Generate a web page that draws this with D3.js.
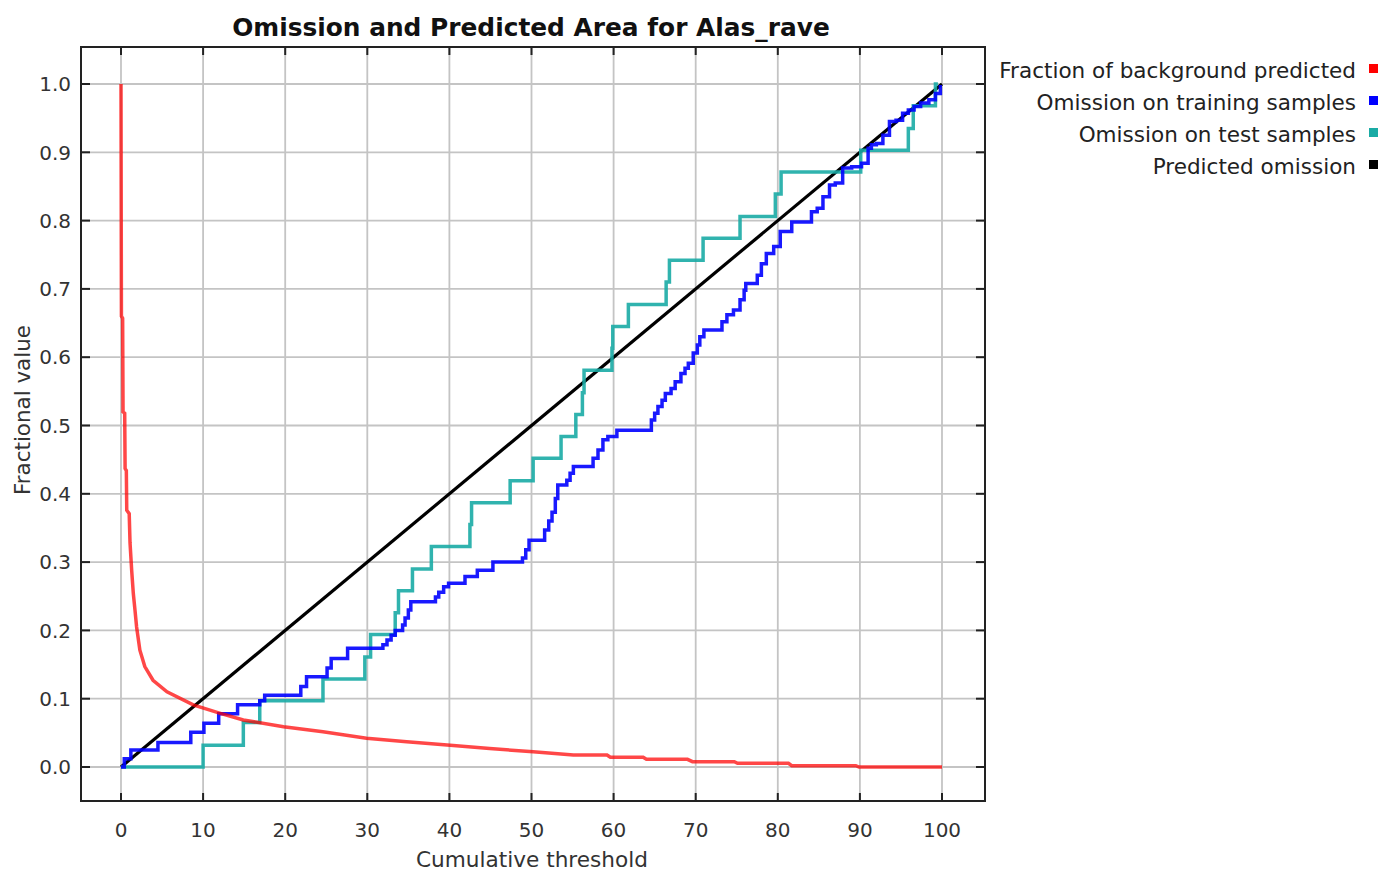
<!DOCTYPE html>
<html><head><meta charset="utf-8">
<script src="https://cdn.jsdelivr.net/npm/d3@7/dist/d3.min.js"></script>
<style>body{margin:0;background:#fff;} svg{display:block;}</style>
</head><body>
<svg id="chart" width="1383" height="872"></svg>
<script>
// ---------- data ----------
const titleText = "Omission and Predicted Area for Alas_rave";
const xAxisTitle = "Cumulative threshold";
const yAxisTitle = "Fractional value";
const xTicks = [0,10,20,30,40,50,60,70,80,90,100];
const yTicks = [0,0.1,0.2,0.3,0.4,0.5,0.6,0.7,0.8,0.9,1.0];
const legendLabels = ["Fraction of background predicted","Omission on training samples","Omission on test samples","Predicted omission"];
const legendColors = ["#ff0000","#0000ff","#1aaba5","#000000"];

// Fraction of background predicted (red)
const bgX = [0,0.05,0.2,0.25,0.45,0.5,0.65,0.7,1.0,1.1,1.3,1.5,1.7,1.9,2.3,2.9,3.9,5.6,8.8,12.1,14.9,19.8,24.6,29.9,34.8,40.1,44.9,50.2,55.1,59.2,59.6,63.6,64.0,69.0,69.6,74.7,75.1,81.3,81.7,89.5,89.9,100];
const bgY = [1.0,0.66,0.657,0.52,0.518,0.437,0.434,0.376,0.371,0.328,0.288,0.254,0.23,0.205,0.171,0.147,0.127,0.110,0.091,0.0786,0.0688,0.059,0.0517,0.042,0.037,0.032,0.027,0.0224,0.0176,0.0176,0.0142,0.0142,0.0112,0.0112,0.0078,0.0078,0.0054,0.0054,0.002,0.002,0.0,0.0];

// Omission on training samples (blue), step points
const trainX = [0,0.4,1.2,4.5,8.5,10.1,11.9,14.2,16.9,17.5,21.9,22.6,25.1,25.6,27.6,31.9,32.4,32.9,33.4,34.3,34.6,35.0,35.3,38.3,38.7,39.3,39.9,41.9,43.4,45.3,48.9,49.3,49.7,51.6,52.1,52.5,52.9,53.2,54.3,54.7,55.1,57.5,58.1,58.7,59.3,60.4,64.6,65.0,65.4,65.9,66.3,67.0,67.5,68.2,68.7,69.1,69.7,70.2,70.5,71.0,73.2,73.8,74.6,75.4,75.9,76.1,77.5,78.0,78.6,79.5,80.3,81.7,84.1,84.8,85.5,86.3,87.0,87.9,89.0,90.2,91.0,91.4,92.0,92.8,93.6,94.4,95.2,95.9,96.6,97.4,98.4,99.2,99.8,100];
const trainY = [0,0.012,0.025,0.036,0.051,0.064,0.078,0.091,0.097,0.105,0.118,0.132,0.145,0.159,0.174,0.179,0.186,0.193,0.200,0.208,0.218,0.230,0.242,0.249,0.256,0.264,0.269,0.279,0.288,0.300,0.306,0.318,0.332,0.347,0.360,0.373,0.393,0.413,0.420,0.430,0.440,0.452,0.464,0.479,0.484,0.493,0.508,0.518,0.528,0.537,0.547,0.554,0.564,0.576,0.584,0.591,0.606,0.618,0.630,0.640,0.652,0.662,0.669,0.684,0.698,0.708,0.720,0.737,0.752,0.762,0.784,0.798,0.813,0.818,0.835,0.852,0.855,0.877,0.879,0.884,0.906,0.911,0.913,0.925,0.945,0.947,0.957,0.962,0.967,0.972,0.977,0.986,0.996,0.996];

// Omission on test samples (teal), step points
const testX = [0,10.0,14.9,16.9,24.6,29.7,30.4,33.4,33.8,35.5,37.8,42.5,42.7,47.4,50.2,53.6,55.4,56.2,56.4,59.8,59.9,61.8,66.4,66.8,70.9,75.4,79.7,80.4,90.1,95.9,96.5,99.2,99.5];
const testY = [0,0.032,0.065,0.097,0.129,0.161,0.194,0.226,0.258,0.290,0.323,0.355,0.387,0.419,0.452,0.484,0.516,0.548,0.581,0.613,0.645,0.677,0.710,0.742,0.774,0.806,0.839,0.871,0.903,0.935,0.968,1.0,1.0];

// Predicted omission (black)
const predX = [0,100];
const predY = [0,1];

// ---------- drawing ----------
const svg = d3.select("#chart");
const frame = {left:81, top:47, right:985, bottom:801};
const x = d3.scaleLinear().domain([0,100]).range([121,942]);
const y = d3.scaleLinear().domain([0,1]).range([767,84]);
const FONT = "'DejaVu Sans', Verdana, sans-serif";

svg.append("rect").attr("width",1383).attr("height",872).attr("fill","#fff");

// grid
const grid = svg.append("g");
grid.selectAll("line.vx").data(xTicks).join("line")
  .attr("x1",d=>x(d)).attr("x2",d=>x(d)).attr("y1",frame.top).attr("y2",frame.bottom)
  .attr("stroke","#c4c4c4").attr("stroke-width",1.8);
grid.selectAll("line.hy").data(yTicks).join("line")
  .attr("y1",d=>y(d)).attr("y2",d=>y(d)).attr("x1",frame.left).attr("x2",frame.right)
  .attr("stroke","#c4c4c4").attr("stroke-width",1.8);

// series (reverse order: last legend item drawn first)
const zip = (a,b)=>a.map((v,i)=>[v,b[i]]);
const lineLin = d3.line().x(d=>x(d[0])).y(d=>y(d[1]));
const lineStep = d3.line().x(d=>x(d[0])).y(d=>y(d[1])).curve(d3.curveStepAfter);
const plot = svg.append("g");
plot.append("path").attr("d",lineLin(zip(predX,predY))).attr("fill","none")
  .attr("stroke",legendColors[3]).attr("stroke-width",3.2);
plot.append("path").attr("d",lineStep(zip(testX,testY))).attr("fill","none")
  .attr("stroke",legendColors[2]).attr("stroke-width",3.5).attr("stroke-opacity",0.9);
plot.append("path").attr("d",lineStep(zip(trainX,trainY))).attr("fill","none")
  .attr("stroke",legendColors[1]).attr("stroke-width",3.5).attr("stroke-opacity",0.9);
plot.append("path").attr("d",lineLin(zip(bgX,bgY))).attr("fill","none")
  .attr("stroke",legendColors[0]).attr("stroke-width",3.5).attr("stroke-opacity",0.72);

// frame
svg.append("rect").attr("x",frame.left).attr("y",frame.top)
  .attr("width",frame.right-frame.left).attr("height",frame.bottom-frame.top)
  .attr("fill","none").attr("stroke","#222").attr("stroke-width",2);

// inward ticks
const tk = svg.append("g").attr("stroke","#222").attr("stroke-width",2);
xTicks.forEach(d=>{
  tk.append("line").attr("x1",x(d)).attr("x2",x(d)).attr("y1",frame.top).attr("y2",frame.top+8);
  tk.append("line").attr("x1",x(d)).attr("x2",x(d)).attr("y1",frame.bottom).attr("y2",frame.bottom-8);
});
yTicks.forEach(d=>{
  tk.append("line").attr("y1",y(d)).attr("y2",y(d)).attr("x1",frame.left).attr("x2",frame.left+9);
  tk.append("line").attr("y1",y(d)).attr("y2",y(d)).attr("x1",frame.right).attr("x2",frame.right-9);
});

// tick labels
svg.append("g").selectAll("text").data(xTicks).join("text")
  .attr("x",d=>x(d)).attr("y",830).attr("dy","0.36em").attr("text-anchor","middle")
  .attr("font-family",FONT).attr("font-size",20).attr("fill","#333").text(d=>d3.format("d")(d));
svg.append("g").selectAll("text").data(yTicks).join("text")
  .attr("x",71).attr("y",d=>y(d)).attr("dy","0.36em").attr("text-anchor","end")
  .attr("font-family",FONT).attr("font-size",20).attr("fill","#333").text(d=>d3.format(".1f")(d));

function fit(sel, w){
  const L = sel.node().getComputedTextLength();
  const fs = parseFloat(sel.attr("font-size"));
  if (L>0) sel.attr("font-size", fs*w/L);
  return fs*w/L;
}

// titles
const t = svg.append("text").attr("x",531).attr("y",27).attr("dy","0.36em").attr("text-anchor","middle")
  .attr("font-family",FONT).attr("font-weight","bold").attr("font-size",22).attr("fill","#111").text(titleText);
fit(t,598);
const xt = svg.append("text").attr("x",532).attr("y",859).attr("dy","0.36em").attr("text-anchor","middle")
  .attr("font-family",FONT).attr("font-size",21).attr("fill","#333").text(xAxisTitle);
fit(xt,232);
const yt = svg.append("text").attr("transform","translate(22,410) rotate(-90)").attr("dy","0.36em").attr("text-anchor","middle")
  .attr("font-family",FONT).attr("font-size",21).attr("fill","#333").text(yAxisTitle);
fit(yt,170);

// legend
const lg = svg.append("g");
let legendFs = 21;
legendLabels.forEach((lab,i)=>{
  const cy = 70 + i*32;
  const tx = lg.append("text").attr("x",1356).attr("y",cy).attr("dy","0.36em").attr("text-anchor","end")
    .attr("font-family",FONT).attr("font-size",legendFs).attr("fill","#222").text(lab);
  if (i===0) legendFs = fit(tx,357);
  lg.append("rect").attr("x",1369).attr("y",cy-6).attr("width",9).attr("height",9).attr("fill",legendColors[i]);
});
</script>
</body></html>
